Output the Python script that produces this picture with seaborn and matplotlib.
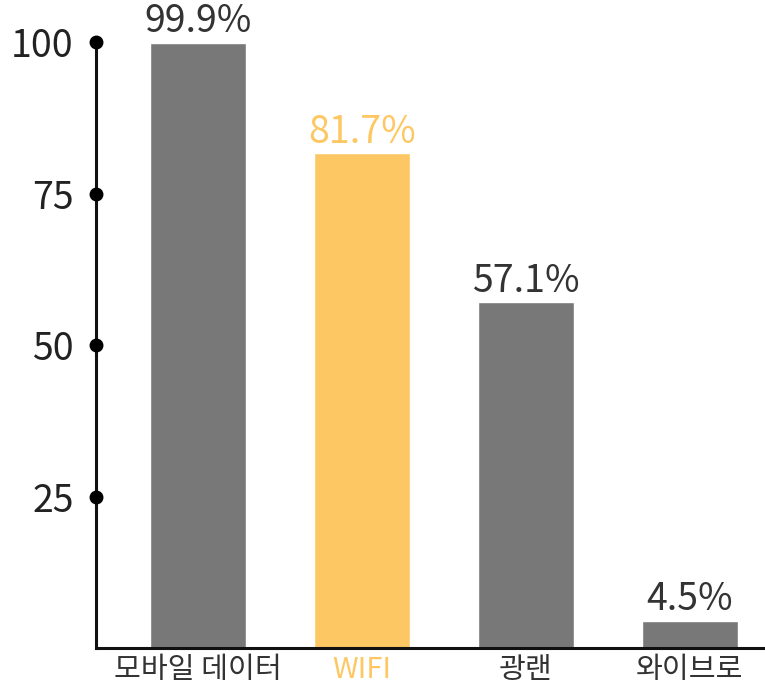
import matplotlib

matplotlib.use("Agg")
import matplotlib.pyplot as plt
import pandas as pd
import seaborn as sns

# Данные графика
categories = ["모바일 데이터", "WIFI", "광랜", "와이브로"]
values = [99.9, 81.7, 57.1, 4.5]
value_labels = ["99.9%", "81.7%", "57.1%", "4.5%"]
y_ticks = [25, 50, 75, 100]

GRAY = "#787878"
YELLOW = "#FDC864"
bar_colors = [GRAY, YELLOW, GRAY, GRAY]
text_colors = ["#333333", YELLOW, "#333333", "#333333"]

sns.set_theme(style="white")
plt.rcParams["font.family"] = ["Noto Sans CJK KR", "DejaVu Sans"]
plt.rcParams["font.weight"] = "light"

df = pd.DataFrame({"category": categories, "value": values})

fig = plt.figure(figsize=(7.65, 6.93), dpi=100)
ax = fig.add_axes([96 / 765, 45 / 693, 1 - 96 / 765, (648 - 30) / 693])

sns.barplot(
    data=df,
    x="category",
    y="value",
    hue="category",
    palette=bar_colors,
    legend=False,
    width=0.585,
    saturation=1,
    ax=ax,
)

ax.set_ylim(0, 102)
ax.set_xlim(-0.622, 3.457)

# Подписи значений над столбцами
for container, lab, col in zip(ax.containers, value_labels, text_colors):
    ax.bar_label(container, labels=[lab], padding=1, fontsize=27, color=col)

# Оси
sns.despine(ax=ax, top=True, right=True)
ax.spines["left"].set_bounds(0, 100)
for sp in ("left", "bottom"):
    ax.spines[sp].set_color("#111111")
    ax.spines[sp].set_linewidth(2.2)

ax.set_yticks(y_ticks)
ax.set_yticklabels([str(t) for t in y_ticks])
ax.tick_params(axis="y", length=0, pad=16, labelsize=27, labelcolor="#222222")
ax.tick_params(axis="x", length=0, pad=5, labelsize=21)
for lbl, col in zip(ax.get_xticklabels(), text_colors):
    lbl.set_color(col)

# Точки на делениях оси Y
ax.plot(
    [0] * len(y_ticks),
    y_ticks,
    "o",
    color="#000000",
    markersize=9,
    transform=ax.get_yaxis_transform(),
    clip_on=False,
    zorder=5,
)

ax.set_xlabel("")
ax.set_ylabel("")
ax.grid(False)

fig.savefig("out.png", dpi=100)
plt.close(fig)
